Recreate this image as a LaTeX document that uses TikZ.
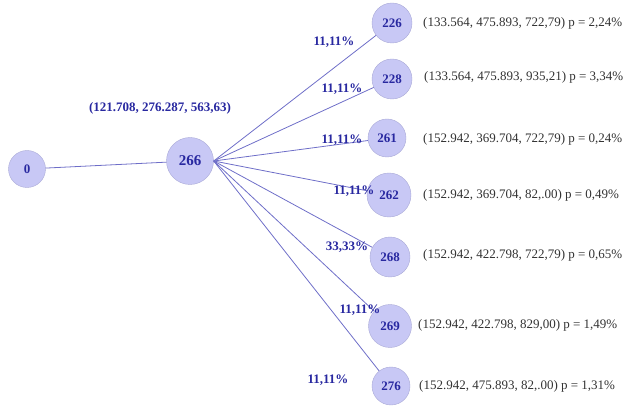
\documentclass[tikz,border=0pt]{standalone}
\usepackage{fontspec}
\setmainfont{Liberation Serif}
\definecolor{nodefill}{RGB}{200,200,245}
\definecolor{nodeline}{RGB}{170,170,215}
\definecolor{nodetext}{RGB}{40,40,160}
\definecolor{edgecol}{RGB}{110,110,200}
\definecolor{infotext}{RGB}{50,50,50}

\begin{document}
\begin{tikzpicture}[x=1pt,y=-1pt,
  state/.style={circle, draw=nodeline, fill=nodefill, text=nodetext, inner sep=0pt,
    font=\bfseries\fontsize{13}{13}\selectfont},
  edge/.style={draw=edgecol, line width=0.8pt},
  prob/.style={text=nodetext, inner sep=0pt, font=\bfseries\fontsize{13}{13}\selectfont},
  info/.style={anchor=west, text=infotext, inner sep=0pt, font=\fontsize{13}{13}\selectfont}]
  \useasboundingbox (0,0) rectangle (624,406);

  \node[state, minimum size=37pt] (n0) at (27,169) {0};
  \node[state, minimum size=47pt, font=\bfseries\fontsize{15}{15}\selectfont] (n266) at (190,161) {266};
  \node[prob] (top) at (160,108) {(121.708, 276.287, 563,63)};

  \node[state, minimum size=40pt] (n226) at (392,23) {226};
  \node[state, minimum size=40pt] (n228) at (392,79) {228};
  \node[state, minimum size=38pt] (n261) at (387,138) {261};
  \node[state, minimum size=44pt] (n262) at (389,195) {262};
  \node[state, minimum size=40pt] (n268) at (390,257) {268};
  \node[state, minimum size=43pt] (n269) at (390,326) {269};
  \node[state, minimum size=38pt] (n276) at (391,386) {276};

  \draw[edge] (n0) -- (n266);
  \foreach \c in {226,228,261,262,268,269,276}
    \draw[edge] (n266.east) -- (n\c);

  \node[prob] (p226) at (334,42) {11,11\%};
  \node[prob] (p228) at (342,89) {11,11\%};
  \node[prob] (p261) at (342,140) {11,11\%};
  \node[prob] (p262) at (354,191) {11,11\%};
  \node[prob] (p268) at (347,247) {33,33\%};
  \node[prob] (p269) at (360,310) {11,11\%};
  \node[prob] (p276) at (328,380) {11,11\%};

  \node[info] (i226) at (423,23) {(133.564, 475.893, 722,79) p = 2,24\%};
  \node[info] (i228) at (424,77) {(133.564, 475.893, 935,21) p = 3,34\%};
  \node[info] (i261) at (423,139) {(152.942, 369.704, 722,79) p = 0,24\%};
  \node[info] (i262) at (423,195) {(152.942, 369.704, 82,.00) p = 0,49\%};
  \node[info] (i268) at (423,255) {(152.942, 422.798, 722,79) p = 0,65\%};
  \node[info] (i269) at (418,325) {(152.942, 422.798, 829,00) p = 1,49\%};
  \node[info] (i276) at (419,386) {(152.942, 475.893, 82,.00) p = 1,31\%};
\end{tikzpicture}
\end{document}
